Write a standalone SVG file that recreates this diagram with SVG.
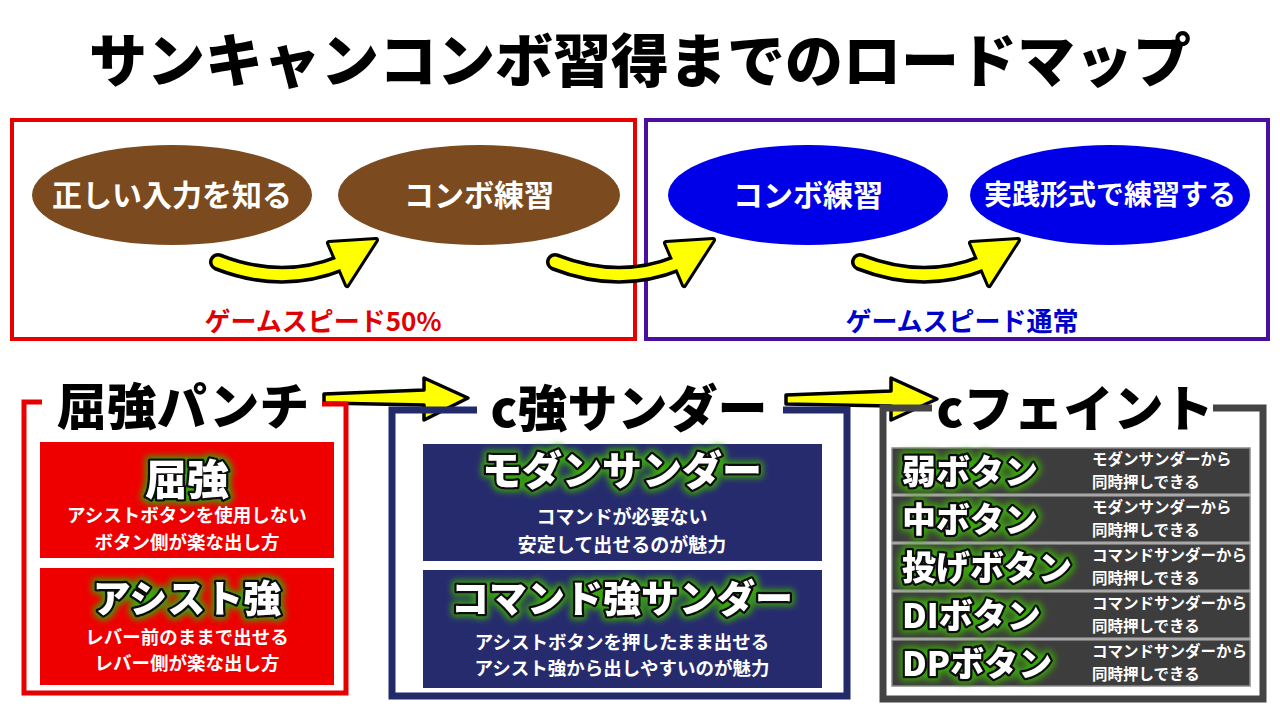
<svg xmlns="http://www.w3.org/2000/svg" width="1280" height="720" viewBox="0 0 1280 720">
<defs>
<style>
text{font-family:"Noto Sans CJK JP","Noto Sans",sans-serif;font-weight:700}
.title{font-size:58px;font-weight:900;fill:#000}
.ell{font-size:30px;fill:#fff;text-anchor:middle}
.spd{font-size:26px;text-anchor:middle}
.h2{font-size:50px;font-weight:900;fill:#000;text-anchor:middle}
.glow{fill:#fff;stroke:#111;stroke-width:5;paint-order:stroke;stroke-linejoin:round;font-weight:900;filter:url(#glow)}
.sub{font-size:18.5px;fill:#fff;text-anchor:middle}
.rowlab{font-size:34px}
.rowtxt{font-size:15.5px;fill:#fff}
.frame{fill:none;stroke-linejoin:miter}
.row{fill:#3d3d3d;stroke:#8a8a8a;stroke-width:1.5}
.ablk{fill:none;stroke:#000;stroke-width:18;stroke-linecap:round}
.ayel{fill:none;stroke:#ffff00;stroke-width:11;stroke-linecap:round}
.hblk{fill:#000;stroke:#000;stroke-width:6;stroke-linejoin:round}
.hyel{fill:#ffff00}
.sarrow{fill:#ffff00;stroke:#000;stroke-width:3.5;stroke-linejoin:round}
</style>
<filter id="glow" x="-20%" y="-50%" width="140%" height="200%">
<feMorphology in="SourceAlpha" operator="dilate" radius="2" result="d"/>
<feGaussianBlur in="d" stdDeviation="3" result="b"/>
<feFlood flood-color="#3aa60a"/>
<feComposite in2="b" operator="in" result="g"/>
<feMerge><feMergeNode in="g"/><feMergeNode in="SourceGraphic"/></feMerge>
</filter>
<g id="curveArrow">
<path class="ablk" d="M0,0 Q64,25 123,1"/>
<polygon class="hblk" points="111,-19 158,-22 129,23"/>
<path class="ayel" d="M0,0 Q64,25 123,1"/>
<polygon class="hyel" points="111,-19 158,-22 129,23"/>
</g>
</defs>
<rect width="1280" height="720" fill="#fff"/>

<g id="title">
<text class="title" x="640" y="82" text-anchor="middle">サンキャンコンボ習得までのロードマップ</text>
</g>

<g id="speed50">
<rect x="12" y="120" width="623" height="219" fill="none" stroke="#e60000" stroke-width="4"/>
<text class="spd" x="323" y="331" fill="#e00000">ゲームスピード50%</text>
</g>
<g id="speedNormal">
<rect x="646" y="120" width="622" height="219" fill="none" stroke="#4a0fa0" stroke-width="4"/>
<text class="spd" x="962" y="331" fill="#0000cc">ゲームスピード通常</text>
</g>

<g id="node-input">
<ellipse cx="172" cy="195" rx="140" ry="50" fill="#7b4a1e"/>
<text class="ell" x="172" y="206">正しい入力を知る</text>
</g>
<g id="node-combo1">
<ellipse cx="479" cy="195" rx="141" ry="50" fill="#7b4a1e"/>
<text class="ell" x="479" y="206">コンボ練習</text>
</g>
<g id="node-combo2">
<ellipse cx="808" cy="195" rx="140" ry="50" fill="#0000e8"/>
<text class="ell" x="808" y="206">コンボ練習</text>
</g>
<g id="node-practice">
<ellipse cx="1110" cy="195" rx="140" ry="50" fill="#0000e8"/>
<text class="ell" x="1110" y="205" style="font-size:28px">実践形式で練習する</text>
</g>

<g id="connectors">
<use href="#curveArrow" transform="translate(218,262)"/>
<use href="#curveArrow" transform="translate(555,262)"/>
<use href="#curveArrow" transform="translate(860,262)"/>
<polygon class="sarrow" points="324,394 424,390 424,378 468,398 424,420 424,405 324,403"/>
<polygon class="sarrow" points="786,395 891,391 891,378 937,399 891,420 891,406 786,404"/>
</g>

<g id="box-kukyou">
<path class="frame" stroke="#e60000" stroke-width="5" d="M42,402 H24 V693 H346 V404 H322"/>
<text class="h2" x="183" y="425">屈強パンチ</text>
<rect x="40" y="442" width="294" height="116" fill="#ee0000"/>
<text class="glow" x="187" y="495" text-anchor="middle" style="font-size:42px">屈強</text>
<text class="sub" x="187" y="522">アシストボタンを使用しない</text>
<text class="sub" x="187" y="549">ボタン側が楽な出し方</text>
<rect x="40" y="568" width="294" height="117" fill="#ee0000"/>
<text class="glow" x="187" y="612" text-anchor="middle" style="font-size:38px">アシスト強</text>
<text class="sub" x="187" y="644">レバー前のままで出せる</text>
<text class="sub" x="187" y="670">レバー側が楽な出し方</text>
</g>

<g id="box-thunder">
<path class="frame" stroke="#232a6a" stroke-width="7" d="M477,410 H392 V696 H847 V410 H783"/>
<text class="h2" x="629" y="427">c強サンダー</text>
<rect x="423" y="444" width="399" height="117" fill="#262b6e"/>
<text class="glow" x="622" y="485" text-anchor="middle" style="font-size:40px">モダンサンダー</text>
<text class="sub" x="622" y="524" style="font-size:19px">コマンドが必要ない</text>
<text class="sub" x="622" y="552" style="font-size:19px">安定して出せるのが魅力</text>
<rect x="423" y="570" width="399" height="118" fill="#262b6e"/>
<text class="glow" x="622" y="612" text-anchor="middle" style="font-size:38px">コマンド強サンダー</text>
<text class="sub" x="622" y="649">アシストボタンを押したまま出せる</text>
<text class="sub" x="622" y="675">アシスト強から出しやすいのが魅力</text>
</g>

<g id="box-feint">
<path class="frame" stroke="#444" stroke-width="7" d="M932,408 H883 V699 H1263 V408 H1213"/>
<text class="h2" x="1075" y="427">cフェイント</text>
<rect class="row" x="892" y="448" width="358" height="46"/>
<rect class="row" x="892" y="496" width="358" height="46"/>
<rect class="row" x="892" y="544" width="358" height="46"/>
<rect class="row" x="892" y="592" width="358" height="46"/>
<rect class="row" x="892" y="640" width="358" height="46"/>
<text class="glow rowlab" x="902" y="484">弱ボタン</text>
<text class="glow rowlab" x="902" y="532">中ボタン</text>
<text class="glow rowlab" x="902" y="580">投げボタン</text>
<text class="glow rowlab" x="902" y="628">DIボタン</text>
<text class="glow rowlab" x="902" y="676">DPボタン</text>
<text class="rowtxt" x="1092" y="465">モダンサンダーから</text>
<text class="rowtxt" x="1092" y="488">同時押しできる</text>
<text class="rowtxt" x="1092" y="513">モダンサンダーから</text>
<text class="rowtxt" x="1092" y="536">同時押しできる</text>
<text class="rowtxt" x="1092" y="561">コマンドサンダーから</text>
<text class="rowtxt" x="1092" y="584">同時押しできる</text>
<text class="rowtxt" x="1092" y="609">コマンドサンダーから</text>
<text class="rowtxt" x="1092" y="632">同時押しできる</text>
<text class="rowtxt" x="1092" y="657">コマンドサンダーから</text>
<text class="rowtxt" x="1092" y="680">同時押しできる</text>
</g>
</svg>
